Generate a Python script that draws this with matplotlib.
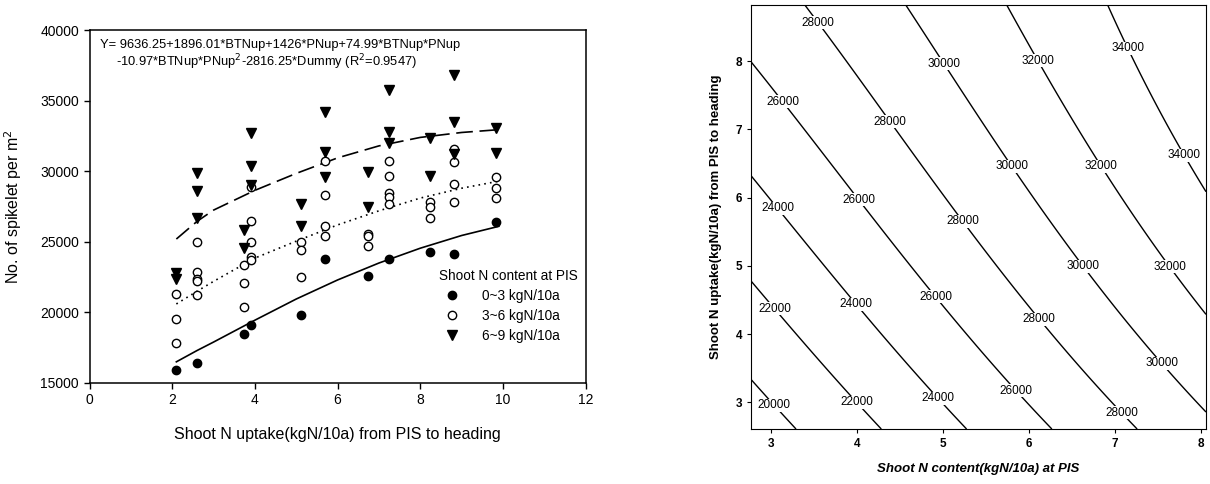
import numpy as np
import matplotlib
matplotlib.use("Agg")
import matplotlib.pyplot as plt
from matplotlib.lines import Line2D

plt.rcParams['font.family'] = ['Liberation Sans', 'DejaVu Sans']

# spikelet number vs. shoot N uptake from PIS to heading, by N content at PIS
low_x = [2.10, 2.60, 3.73, 3.91, 5.11, 5.70, 6.74, 7.25, 8.24, 8.81, 9.83]
low_y = [15900, 16400, 18500, 19100, 19850, 23800, 22550, 23800, 24300, 24150, 26400]

mid_x = [2.10, 2.10, 2.10, 2.60, 2.60, 2.60, 2.60, 2.60,
         3.73, 3.73, 3.73, 3.91, 3.91, 3.91, 3.91, 3.91,
         5.11, 5.11, 5.11, 5.70, 5.70, 5.70, 5.70,
         6.74, 6.74, 6.74, 7.25, 7.25, 7.25, 7.25, 7.25,
         8.24, 8.24, 8.24, 8.81, 8.81, 8.81, 8.81, 9.83, 9.83, 9.83]
mid_y = [21300, 19530, 17830, 25000, 22880, 22400, 22200, 21250,
         23350, 22050, 20350, 28900, 26500, 24980, 23900, 23700,
         25000, 24450, 22500, 30700, 28300, 26100, 25450,
         25580, 25380, 24700, 30750, 29650, 28450, 28200, 27650,
         27800, 27450, 26680, 31550, 30650, 29130, 27850, 29570, 28830, 28100]

high_x = [2.10, 2.10, 2.60, 2.60, 2.60, 3.73, 3.73, 3.91, 3.91, 3.91,
          5.11, 5.11, 5.70, 5.70, 5.70, 6.74, 6.74, 7.25, 7.25, 7.25,
          8.24, 8.24, 8.81, 8.81, 8.81, 9.83, 9.83]
high_y = [22800, 22400, 29850, 28600, 26700, 25830, 24530, 32720, 30380, 29050,
          27700, 26100, 34200, 31380, 29600, 29960, 27500, 35750, 32750, 31970,
          32370, 29650, 36800, 33500, 31250, 33100, 31300]

# fitted response curves for each group
fit_x = [2.1, 2.6, 3.0, 4.0, 5.0, 6.0, 7.0, 8.0, 9.0, 9.9]
fit_low = [16500, 17300, 17900, 19450, 20950, 22300, 23500, 24550, 25450, 26100]
fit_mid = [20600, 21500, 22200, 23850, 25050, 26200, 27200, 28100, 28800, 29300]
fit_high = [25200, 26450, 27250, 28650, 29850, 30950, 31800, 32400, 32750, 32950]

# regression: Y = b0 + b1*BTN + b2*PN + b3*BTN*PN + b4*BTN*PN^2 (Dummy = 0)
coef = [9636.25, 1896.01, 1426.0, 74.99, -10.97]
btn_range = [2.77, 8.06]
pn_range = [2.61, 8.82]
levels = [20000, 22000, 24000, 26000, 28000, 30000, 32000, 34000]
label_pos = [(3.55, 8.56), (7.16, 8.19), (5.02, 7.97), (6.11, 8.01),
             (3.14, 7.40), (4.39, 7.11), (5.82, 6.47), (6.85, 6.47), (7.82, 6.63),
             (3.08, 5.84), (4.02, 5.97), (5.23, 5.65), (6.65, 5.01), (7.66, 5.01),
             (3.05, 4.38), (4.00, 4.45), (4.94, 4.57), (6.13, 4.23), (7.55, 3.58),
             (3.05, 2.97), (4.00, 3.00), (4.95, 3.07), (5.86, 3.18), (7.08, 2.85)]

fig = plt.figure(figsize=(12.1, 4.84), dpi=100)

# left: scatter with fitted curves
ax = fig.add_axes([0.074, 0.2087, 0.410, 0.729])
ax.plot(fit_x, fit_low, color='black', lw=1.2)
ax.plot(fit_x, fit_mid, color='black', lw=1.2, linestyle=(0, (1, 2.5)))
ax.plot(fit_x, fit_high, color='black', lw=1.2, linestyle=(0, (10, 4)))
ax.plot(low_x, low_y, 'o', ms=6, mfc='black', mec='black', ls='none')
ax.plot(mid_x, mid_y, 'o', ms=6, mfc='white', mec='black', mew=1.0, ls='none')
ax.plot(high_x, high_y, 'v', ms=6.5, mfc='black', mec='black', ls='none')

ax.set_xlim(0, 12)
ax.set_ylim(15000, 40000)
ax.set_xticks(range(0, 13, 2))
ax.set_yticks(range(15000, 40001, 5000))
ax.tick_params(direction='out', length=4, labelsize=10, width=1)
for s in ax.spines.values():
    s.set_linewidth(1.1)
ax.set_xlabel('Shoot N uptake(kgN/10a) from PIS to heading', fontsize=11.5, labelpad=14)
ax.set_ylabel('No. of spikelet per m$^2$', fontsize=11.5, labelpad=12)

ax.text(0.25, 38950, 'Y= 9636.25+1896.01*BTNup+1426*PNup+74.99*BTNup*PNup',
        fontsize=9.3, va='center')
ax.text(0.65, 37700, '-10.97*BTNup*PNup$^2$-2816.25*Dummy (R$^2$=0.9547)',
        fontsize=9.3, va='center')

handles = [Line2D([], [], marker='o', ls='none', ms=6, mfc='black', mec='black'),
           Line2D([], [], marker='o', ls='none', ms=6, mfc='white', mec='black'),
           Line2D([], [], marker='v', ls='none', ms=6.5, mfc='black', mec='black')]
leg = ax.legend(handles, ['0~3 kgN/10a', '3~6 kgN/10a', '6~9 kgN/10a'],
                title='Shoot N content at PIS', loc='lower right',
                bbox_to_anchor=(1.0, 0.09), frameon=False, fontsize=9.8,
                title_fontsize=9.8, handletextpad=1.2, labelspacing=0.45,
                borderaxespad=0.2)
leg._legend_box.align = 'left'

# right: response surface contours
ax2 = fig.add_axes([0.6207, 0.1136, 0.376, 0.876])
btn = np.linspace(btn_range[0], btn_range[1], 200)
pn = np.linspace(pn_range[0], pn_range[1], 200)
B, P = np.meshgrid(btn, pn)
Z = coef[0] + coef[1] * B + coef[2] * P + coef[3] * B * P + coef[4] * B * P ** 2
cs = ax2.contour(B, P, Z, levels=levels, colors='black', linewidths=1.0)
labels = ax2.clabel(cs, fmt='%d', fontsize=8.5, inline=False, manual=label_pos)
for t in labels:
    t.set_rotation(0)
    t.set_bbox(dict(facecolor='white', edgecolor='none', pad=0.3))
ax2.set_xlim(btn_range)
ax2.set_ylim(pn_range)
ax2.set_xticks(range(3, 9))
ax2.set_yticks(range(3, 9))
ax2.tick_params(direction='out', length=3, labelsize=8.5)
for lab in ax2.get_xticklabels() + ax2.get_yticklabels():
    lab.set_fontweight('bold')
ax2.set_xlabel('Shoot N content(kgN/10a) at PIS', fontsize=9.5, fontweight='bold',
               fontstyle='italic', labelpad=9)
ax2.set_ylabel('Shoot N uptake(kgN/10a) from PIS to heading', fontsize=9.5,
               fontweight='bold', labelpad=10)

fig.savefig('out.png', dpi=100)
